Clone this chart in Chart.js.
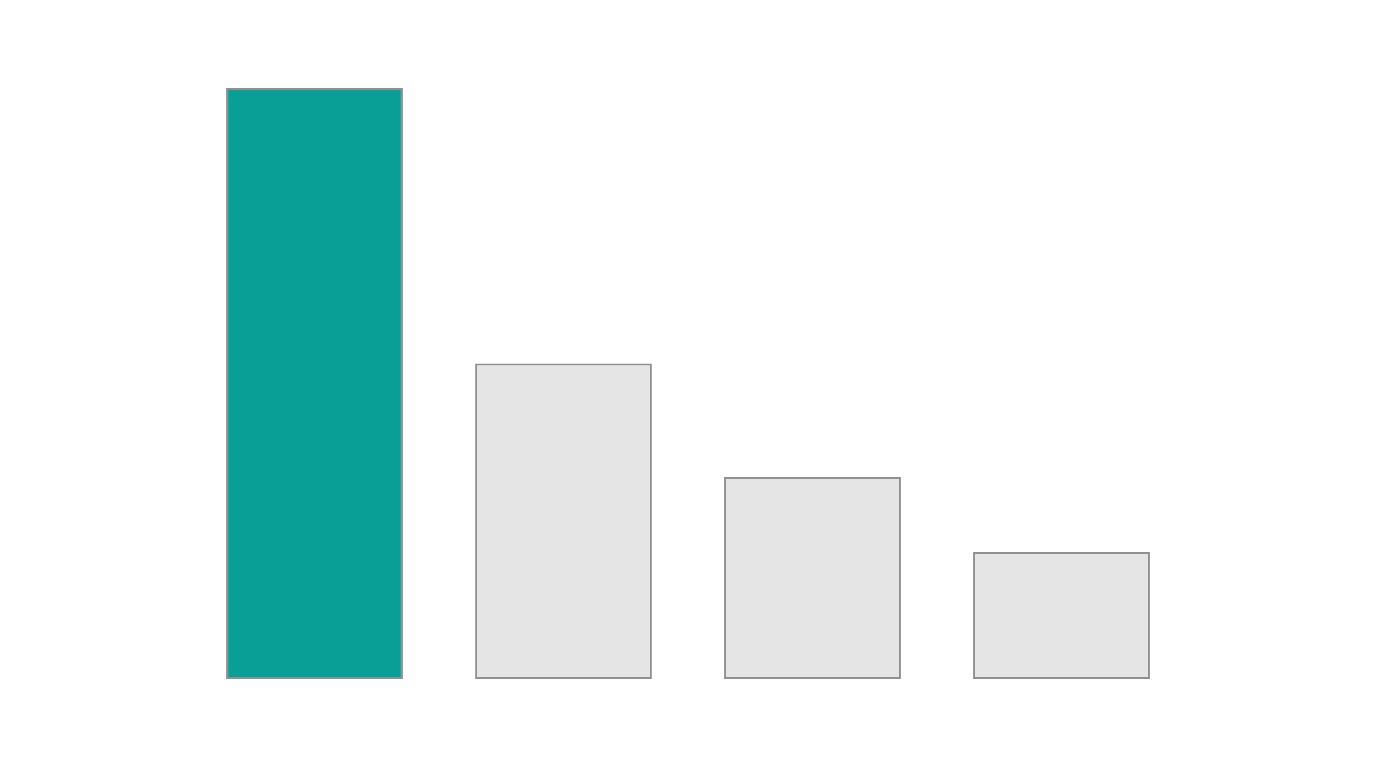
<!DOCTYPE html>
<html>
<head>
<meta charset="utf-8">
<script src="https://cdn.jsdelivr.net/npm/chart.js@4"></script>
<style>
  html, body { margin: 0; padding: 0; background: #ffffff; }
  #wrap { width: 1376px; height: 768px; }
</style>
</head>
<body>
<div id="wrap"><canvas id="barChart"></canvas></div>
<script>
const categories = ["A", "B", "C", "D"];
const values = [100, 53.4, 34.2, 21.5];
const barColors = ["#099e96", "#e5e5e5", "#e5e5e5", "#e5e5e5"];

const ctx = document.getElementById("barChart").getContext("2d");
new Chart(ctx, {
  type: "bar",
  data: {
    labels: categories,
    datasets: [{
      data: values,
      backgroundColor: barColors,
      borderColor: "#909090",
      borderWidth: 2,
      borderSkipped: false,
      categoryPercentage: 1,
      barPercentage: 0.71
    }]
  },
  options: {
    responsive: true,
    maintainAspectRatio: false,
    animation: false,
    layout: { padding: { left: 190, right: 190, top: 88, bottom: 89 } },
    plugins: {
      legend: { display: false },
      tooltip: { enabled: false }
    },
    scales: {
      x: { display: false },
      y: { display: false, min: 0, max: 100 }
    }
  }
});
</script>
</body>
</html>
